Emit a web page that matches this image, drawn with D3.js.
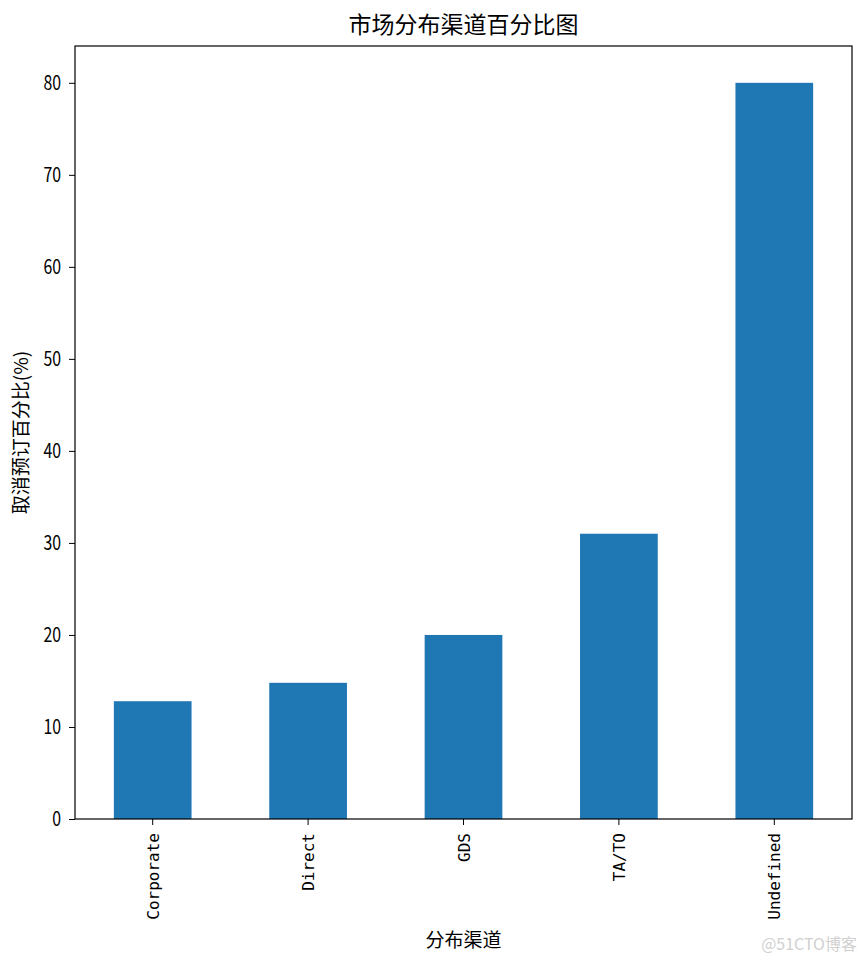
<!DOCTYPE html>
<html>
<head>
<meta charset="utf-8">
<script src="https://cdn.jsdelivr.net/npm/d3@7"></script>
<style>
  html, body { margin: 0; padding: 0; background: #fff; }
  svg { display: block; }
</style>
</head>
<body>
<svg id="chart" width="865" height="963"></svg>
<script>
const categories = ["Corporate", "Direct", "GDS", "TA/TO", "Undefined"];
const values = [12.8, 14.8, 20.0, 31.0, 80.0];
const yTicks = [0, 10, 20, 30, 40, 50, 60, 70, 80];
const titleText = "市场分布渠道百分比图";
const xLabelText = "分布渠道";
const yLabelText = "取消预订百分比(%)";

const svg = d3.select("#chart");
const margin = { left: 75, right: 13, top: 46, bottom: 144 };
const W = 865, H = 963;
const pw = W - margin.left - margin.right;
const ph = H - margin.top - margin.bottom;

const x = d3.scaleBand().domain(categories).range([0, pw]).paddingInner(0.5).paddingOuter(0.25);
const y = d3.scaleLinear().domain([0, 84]).range([ph, 0]);

const g = svg.append("g").attr("transform", `translate(${margin.left},${margin.top})`);

g.selectAll("rect.bar").data(categories).enter().append("rect")
  .attr("class", "bar")
  .attr("x", d => x(d))
  .attr("width", x.bandwidth())
  .attr("y", (d, i) => y(values[i]))
  .attr("height", (d, i) => y(0) - y(values[i]))
  .attr("fill", "#1f77b4");

// frame
g.append("rect").attr("x", 0).attr("y", 0).attr("width", pw).attr("height", ph)
  .attr("fill", "none").attr("stroke", "#000").attr("stroke-width", 1.2);

const yAxis = g.append("g").call(d3.axisLeft(y).tickValues(yTicks).tickSize(6).tickPadding(8));
yAxis.select(".domain").remove();
yAxis.selectAll("text")
  .attr("font-family", "'Noto Sans CJK SC', sans-serif")
  .attr("font-size", 20)
  .attr("fill", "#000")
  .attr("lengthAdjust", "spacingAndGlyphs")
  .attr("textLength", d => String(d).length * 8.8);
yAxis.selectAll("line").attr("stroke", "#000");

const xAxis = g.append("g").attr("transform", `translate(0,${ph})`)
  .call(d3.axisBottom(x).tickSize(6).tickPadding(0));
xAxis.select(".domain").remove();
xAxis.selectAll("line").attr("stroke", "#000");
xAxis.selectAll("text")
  .attr("font-family", "'DejaVu Sans Mono', monospace")
  .attr("font-size", 16)
  .attr("fill", "#000")
  .attr("text-anchor", "end")
  .attr("dy", null)
  .attr("y", 0)
  .attr("transform", "translate(6,14) rotate(-90)");

svg.append("text").attr("x", margin.left + pw / 2).attr("y", 33)
  .attr("text-anchor", "middle")
  .attr("font-family", "'Noto Sans CJK SC', sans-serif")
  .attr("font-size", 23).attr("fill", "#000").text(titleText);

svg.append("text").attr("x", margin.left + pw / 2).attr("y", 947)
  .attr("text-anchor", "middle")
  .attr("font-family", "'Noto Sans CJK SC', sans-serif")
  .attr("font-size", 19).attr("fill", "#000").text(xLabelText);

svg.append("text")
  .attr("transform", `translate(28,${margin.top + ph / 2}) rotate(-90)`)
  .attr("text-anchor", "middle")
  .attr("font-family", "'Noto Sans CJK SC', sans-serif")
  .attr("font-size", 19).attr("fill", "#000").text(yLabelText);

svg.append("text").attr("x", 857).attr("y", 950)
  .attr("text-anchor", "end")
  .attr("font-family", "'Noto Sans CJK SC', sans-serif")
  .attr("font-size", 16).attr("fill", "#d0d0d0").text("@51CTO博客");
</script>
</body>
</html>
